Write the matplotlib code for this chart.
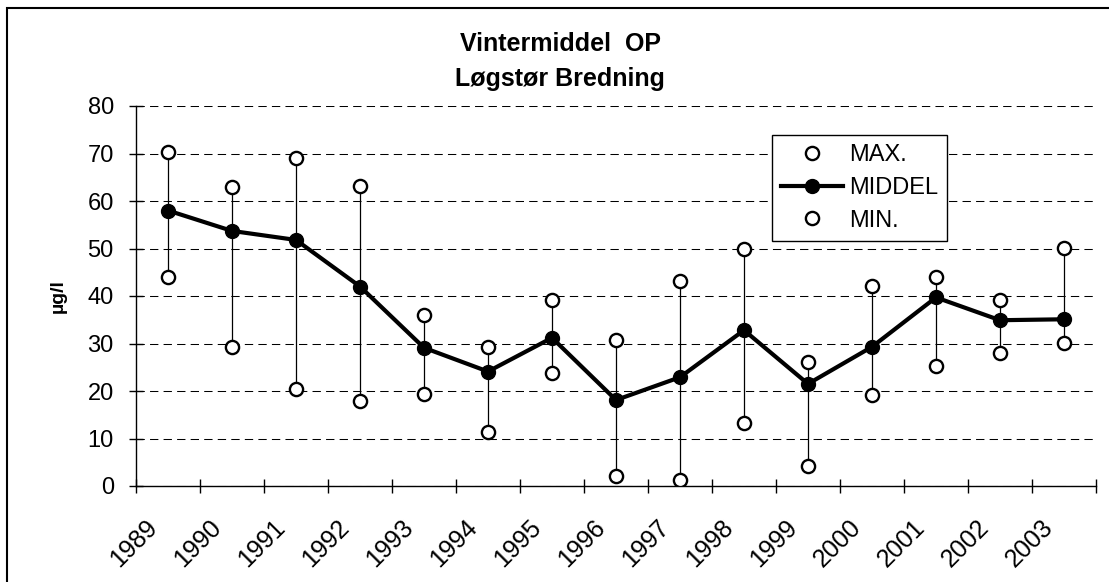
import matplotlib
matplotlib.use("Agg")
import matplotlib.pyplot as plt
from matplotlib.patches import Rectangle
import numpy as np

plt.rcParams['font.family'] = ['Liberation Sans', 'DejaVu Sans']

years = ['1989', '1990', '1991', '1992', '1993', '1994', '1995', '1996',
         '1997', '1998', '1999', '2000', '2001', '2002', '2003']
maks = [70.4, 63.0, 69.1, 63.2, 35.9, 29.2, 39.2, 30.7, 43.2, 49.8, 26.2, 42.1, 44.1, 39.2, 50.2]
middel = [58.0, 53.7, 51.8, 42.0, 29.1, 24.1, 31.2, 18.1, 22.9, 32.8, 21.5, 29.3, 39.7, 34.9, 35.1]
mini = [44.1, 29.2, 20.4, 17.8, 19.3, 11.4, 23.7, 2.2, 1.3, 13.2, 4.3, 19.2, 25.3, 28.1, 30.2]

W, H = 1109, 582
fig = plt.figure(figsize=(W / 100, H / 100), dpi=100)
ax = fig.add_axes([136 / W, 1 - 486 / H, 960 / W, 380 / H])

x = np.arange(len(years)) + 0.5

# high-low lines
ax.vlines(x, mini, maks, color='black', lw=0.9, zorder=2)
ax.plot(x, maks, 'o', ls='none', ms=9.5, mfc='white', mec='black', mew=1.7, label='MAX.', zorder=4)
ax.plot(x, middel, '-o', color='black', lw=3, ms=10, label='MIDDEL', zorder=3)
ax.plot(x, mini, 'o', ls='none', ms=9.5, mfc='white', mec='black', mew=1.7, label='MIN.', zorder=4)

ax.set_xlim(0, len(years))
ax.set_ylim(0, 80)
ax.set_yticks(np.arange(0, 81, 10))
ax.yaxis.grid(True, color='black', lw=0.75, linestyle=(0, (8, 5)))
ax.set_axisbelow(True)

# category boundaries as ticks, labels placed separately
ax.set_xticks(np.arange(0, len(years) + 1))
ax.set_xticklabels([])
ax.set_xticks(np.arange(len(years)) + 0.14, minor=True)
ax.set_xticklabels(years, minor=True, rotation=45, ha='right', rotation_mode='anchor')
ax.tick_params(axis='x', which='minor', length=0, pad=21, labelsize=18)
ax.tick_params(axis='x', which='major', direction='inout', length=10, width=1)
ax.tick_params(axis='y', direction='inout', length=10, width=1, pad=11, labelsize=17)

for s in ['top', 'right']:
    ax.spines[s].set_visible(False)
for s in ['left', 'bottom']:
    ax.spines[s].set_linewidth(1)

ax.set_ylabel('µg/l', fontsize=14, fontweight='bold')
ax.yaxis.set_label_coords(-0.072, 0.5)

fig.text(560 / W, 1 - 50.7 / H, 'Vintermiddel  OP', ha='center', va='baseline',
         fontsize=18, fontweight='bold')
fig.text(560 / W, 1 - 86 / H, 'Løgstør Bredning', ha='center', va='baseline',
         fontsize=18, fontweight='bold')

leg = ax.legend(loc='upper left', bbox_to_anchor=(0.6625, 0.9237), borderaxespad=0,
                fontsize=17, frameon=True, fancybox=False, edgecolor='black',
                handlelength=2.6, handletextpad=0.25, labelspacing=0.45, borderpad=0.4)
leg.get_frame().set_linewidth(1)
leg.get_frame().set_alpha(1)

fig.patches.append(Rectangle((7 / W, -0.1), 1.2, 1.1 - 8 / H, transform=fig.transFigure,
                             fill=False, ec='black', lw=1.5))

fig.savefig('out.png', dpi=100)
